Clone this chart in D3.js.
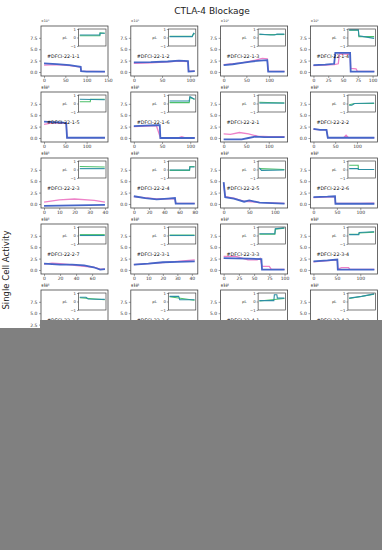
<!DOCTYPE html>
<html>
<head>
<meta charset="utf-8">
<script src="https://cdn.jsdelivr.net/npm/d3@7"></script>
<style>
body { margin: 0; background: #fff; }
svg { display: block; font-family: "DejaVu Sans", sans-serif; }
</style>
</head>
<body>
<svg id="chart" width="382" height="550"></svg>
<script>
// panel names, in reading order
var panelIds = ["#DFCI-22-1-1", "#DFCI-22-1-2", "#DFCI-22-1-3", "#DFCI-22-1-4",
  "#DFCI-22-1-5", "#DFCI-22-1-6", "#DFCI-22-2-1", "#DFCI-22-2-2",
  "#DFCI-22-2-3", "#DFCI-22-2-4", "#DFCI-22-2-5", "#DFCI-22-2-6",
  "#DFCI-22-2-7", "#DFCI-22-3-1", "#DFCI-22-3-3", "#DFCI-22-3-4",
  "#DFCI-22-3-5", "#DFCI-22-3-6", "#DFCI-22-4-1", "#DFCI-22-4-2"];

var panelXMax = [143, 108, 134, 103, 143, 108, 135, 140, 40, 80, 119, 130, 76, 42, 100, 130, 120, 110, 100, 120];

var panelXTicks = [[0, 50, 100, 150], [0, 50, 100], [0, 50, 100], [0, 25, 50, 75, 100],
  [0, 50, 100], [0, 50, 100], [0, 50, 100], [0, 50, 100],
  [0, 10, 20, 30, 40], [0, 20, 40, 60, 80], [0, 50, 100], [0, 50, 100],
  [0, 20, 40, 60], [0, 10, 20, 30, 40], [0, 25, 50, 75, 100], [0, 50, 100],
  [0, 50, 100], [0, 50, 100], [0, 50, 100], [0, 50, 100]];

var yTicks = [0, 2.5, 5, 7.5];
var insetTicks = [-1, 0, 1];

// main series (x, activity)
var blueSeries = [
  [[0,1.9],[30,1.75],[60,1.5],[75,1.3],[86,1.15],[87,0.2],[100,0.1],[143,0.1]],
  [[0,2.1],[30,2.15],[60,2.3],[80,2.5],[96,2.4],[97,0.1],[108,0.2]],
  [[0,1.5],[20,1.7],[40,2.0],[60,2.3],[80,2.5],[96,2.6],[98,0.1],[134,0.1]],
  [[0,1.5],[20,1.6],[35,1.8],[37,4.2],[62,4.2],[63,0.1],[103,0.1]],
  [[0,3.6],[20,3.5],[40,3.4],[52,3.3],[54,0.05],[143,0.05]],
  [[0,2.6],[20,2.7],[40,2.8],[46,2.8],[47,0.0],[108,0.0]],
  [[0,-0.3],[40,-0.3],[55,0.0],[70,0.3],[90,0.2],[135,0.2]],
  [[0,2.0],[15,1.8],[30,1.8],[33,0.05],[140,0.05]],
  [[0,-0.4],[20,-0.3],[40,-0.2]],
  [[0,1.7],[15,1.3],[30,1.0],[45,1.2],[54,1.3],[55,0.1],[80,0.1]],
  [[0,4.8],[3,1.5],[20,1.2],[40,0.5],[50,0.8],[70,0.3],[119,0.1]],
  [[0,1.5],[30,1.6],[46,1.7],[47,0.05],[130,0.05]],
  [[0,1.4],[20,1.2],[35,1.2],[50,1.0],[62,0.6],[70,0.1],[76,0.2]],
  [[0,1.2],[10,1.4],[20,1.7],[30,1.8],[42,1.9]],
  [[0,2.6],[40,2.5],[62,2.4],[63,0.1],[100,0.1]],
  [[0,1.9],[30,2.1],[51,2.3],[52,0.1],[130,0.1]],
  [[0,1.5],[120,1.0]],
  [[0,1.5],[110,1.0]],
  [[0,1.5],[100,1.0]],
  [[0,1.5],[120,1.0]]
];

var pinkSeries = [
  [[0,1.5],[30,1.6],[60,1.4],[86,1.1],[87,0.2],[143,0.1]],
  [[0,1.9],[30,2.0],[60,2.2],[80,2.4],[96,2.3],[97,0.2],[108,0.2]],
  [[0,1.6],[40,2.0],[70,2.6],[85,3.0],[96,2.9],[98,0.2],[134,0.15]],
  [[0,1.4],[35,1.6],[42,1.8],[44,4.0],[62,3.9],[63,0.8],[72,0.7],[74,0.2],[103,0.15]],
  [[0,3.0],[20,3.3],[52,3.2],[54,0.1],[143,0.1]],
  [[0,2.5],[40,2.7],[47,0.1],[80,0.1],[85,0.3],[90,0.1],[108,0.1]],
  [[0,0.9],[15,0.8],[35,1.2],[55,0.9],[75,0.4],[100,0.3],[135,0.3]],
  [[0,1.9],[30,1.8],[33,0.1],[70,0.1],[75,0.6],[80,0.1],[140,0.1]],
  [[0,0.4],[10,0.9],[20,1.1],[33,0.8],[40,0.4]],
  [[0,1.6],[30,1.1],[54,1.2],[55,0.15],[80,0.15]],
  [[0,4.6],[3,1.6],[20,1.3],[40,0.6],[70,0.35],[119,0.15]],
  [[0,1.4],[46,1.6],[47,0.2],[100,0.15],[130,0.2]],
  [[0,1.3],[10,1.5],[20,1.4],[35,1.1],[62,0.6],[70,0.2],[76,0.2]],
  [[0,1.2],[20,1.6],[30,1.9],[42,2.2]],
  [[0,3.0],[20,3.0],[40,2.2],[55,2.2],[60,2.6],[63,0.8],[75,0.8],[78,0.2],[100,0.15]],
  [[0,1.8],[51,2.2],[52,0.2],[60,0.5],[75,0.5],[78,0.15],[130,0.15]],
  [[0,1.4],[120,1.0]],
  [[0,1.4],[110,1.0]],
  [[0,1.4],[100,1.0]],
  [[0,1.4],[120,1.0]]
];

// inset series (x, correlation)
var insetTeal = [
  [[0,0.3],[115,0.3],[116,0.5],[143,0.5]],
  [[0,0.1],[98,0.1],[104,0.5],[108,0.45]],
  [[0,0.4],[60,0.3],[80,0.3],[95,0.4],[134,0.4]],
  [[0,0.9],[38,0.9],[40,0.2],[60,0.1],[103,-0.1]],
  [[0,0.5],[143,0.45]],
  [[0,0.3],[85,0.3],[88,0.8],[108,0.5]],
  [[0,0.05],[135,0.05]],
  [[0,-0.2],[15,-0.2],[30,0.0],[140,0.05]],
  [[0,0.1],[40,0.1]],
  [[0,-0.05],[64,-0.05],[65,0.3],[80,0.3]],
  [[0,0.2],[10,-0.1],[119,-0.05]],
  [[0,0.1],[47,0.1],[48,0.0],[130,0.0]],
  [[0,0.0],[76,0.0]],
  [[0,0.0],[42,0.0]],
  [[0,0.2],[62,0.2],[64,0.8],[100,0.9]],
  [[0,0.1],[50,0.1],[52,0.35],[130,0.45]],
  [[0,0.5],[30,0.5],[40,0.3],[120,0.25]],
  [[0,0.6],[40,0.6],[45,0.2],[110,0.2]],
  [[0,0.1],[58,0.1],[60,0.8],[70,0.8],[72,0.4],[100,0.4]],
  [[0,0.4],[60,0.6],[120,0.9]]
];

var insetGreen = [
  [[0,0.2],[115,0.2],[116,0.55],[143,0.5]],
  [[0,0.15],[98,0.15],[104,0.45],[108,0.4]],
  [[0,0.35],[134,0.35]],
  [[0,0.85],[38,0.85],[40,0.1],[65,0.1],[103,0.1]],
  [[0,0.2],[60,0.2],[62,0.5],[143,0.5]],
  [[0,0.1],[85,0.1],[88,0.7],[108,0.5]],
  [[0,0.15],[135,0.05]],
  [[0,-0.15],[30,0.0],[140,0.0]],
  [[0,0.35],[40,0.3]],
  [[0,-0.1],[64,-0.1],[65,0.35],[80,0.35]],
  [[0,0.1],[119,0.0]],
  [[0,0.5],[47,0.5],[48,0.0],[130,0.0]],
  [[0,0.1],[76,0.1]],
  [[0,0.05],[42,0.05]],
  [[0,0.15],[62,0.15],[64,0.75],[100,0.85]],
  [[0,0.15],[50,0.15],[52,0.3],[130,0.4]],
  [[0,0.45],[120,0.2]],
  [[0,0.55],[110,0.15]],
  [[0,0.05],[100,0.35]],
  [[0,0.35],[120,0.85]]
];

var svg = d3.select("#chart");

var colLeft = 41, colStep = 89.8, panelW = 67;
var rowTop = 26, rowStep = 66, panelH = 50;

svg.append("text")
  .text("CTLA-4 Blockage")
  .attr("x", 212).attr("y", 14)
  .attr("text-anchor", "middle")
  .attr("font-size", 9)
  .attr("fill", "#222");

svg.append("text")
  .text("Single Cell Activity")
  .attr("transform", "translate(9,270) rotate(-90)")
  .attr("text-anchor", "middle")
  .attr("font-size", 8.5)
  .attr("fill", "#222");

var yScale = d3.scaleLinear().domain([-0.88, 10.1]).range([panelH, 0]);

panelIds.forEach(function(id, i) {
  var col = i % 4, row = Math.floor(i / 4);
  var g = svg.append("g")
    .attr("transform", "translate(" + (colLeft + col * colStep) + "," + (rowTop + row * rowStep) + ")");

  var xm = panelXMax[i];
  var xScale = d3.scaleLinear().domain([-xm * 0.05, xm * 1.05]).range([0, panelW]);

  var line = d3.line()
    .x(function(d) { return xScale(d[0]); })
    .y(function(d) { return yScale(d[1]); });

  g.append("path").datum(pinkSeries[i])
    .attr("d", line).attr("fill", "none")
    .attr("stroke", "#ee82c8").attr("stroke-width", 1.3);
  g.append("path").datum(blueSeries[i])
    .attr("d", line).attr("fill", "none")
    .attr("stroke", "#4565c8").attr("stroke-width", 1.8);

  var yAxis = g.append("g")
    .call(d3.axisLeft(yScale).tickValues(yTicks).tickSize(2).tickPadding(1.5)
      .tickFormat(d3.format(".1f")));
  var xAxis = g.append("g").attr("transform", "translate(0," + panelH + ")")
    .call(d3.axisBottom(xScale).tickValues(panelXTicks[i]).tickSize(2).tickPadding(1.2));
  [yAxis, xAxis].forEach(function(a) {
    a.select(".domain").remove();
    a.selectAll("text").attr("font-size", 4.5).attr("fill", "#333")
      .attr("font-family", "DejaVu Sans");
    a.selectAll("line").attr("stroke", "#444").attr("stroke-width", 0.5);
  });

  g.append("text").text("×10³").attr("x", 0).attr("y", -4)
    .attr("font-size", 3.3).attr("fill", "#333");
  g.append("text").text("×10³").attr("x", 0).attr("y", panelH + 12.5)
    .attr("font-size", 3.3).attr("fill", "#333");

  g.append("text").text(id)
    .attr("x", 6).attr("y", 32)
    .attr("font-size", 4.8).attr("fill", "#111");

  g.append("rect").attr("width", panelW).attr("height", panelH)
    .attr("fill", "none").attr("stroke", "#444").attr("stroke-width", 0.8);

  // inset
  var ix = panelW * 0.56, iw = panelW * 0.41, iy = 3, ih = 17;
  var ig = g.append("g").attr("transform", "translate(" + ix + "," + iy + ")");
  var ixScale = d3.scaleLinear().domain([-xm * 0.05, xm * 1.05]).range([0, iw]);
  var iyScale = d3.scaleLinear().domain([-1, 1]).range([ih, 0]);
  ig.append("rect").attr("width", iw).attr("height", ih).attr("fill", "#fff");
  var iline = d3.line()
    .x(function(d) { return ixScale(d[0]); })
    .y(function(d) { return iyScale(d[1]); });
  ig.append("path").datum(insetGreen[i]).attr("d", iline).attr("fill", "none")
    .attr("stroke", "#4cc06a").attr("stroke-width", 1.1);
  ig.append("path").datum(insetTeal[i]).attr("d", iline).attr("fill", "none")
    .attr("stroke", "#2b8fa3").attr("stroke-width", 1.1);
  var ia = ig.append("g")
    .call(d3.axisLeft(iyScale).tickValues(insetTicks).tickSize(1.5).tickPadding(1)
      .tickFormat(function(d) { return d < 0 ? "−1" : d; }));
  ia.select(".domain").remove();
  ia.selectAll("text").attr("font-size", 3.8).attr("fill", "#333")
    .attr("font-family", "DejaVu Sans");
  ia.selectAll("line").attr("stroke", "#444").attr("stroke-width", 0.5);
  ig.append("text").text("ρL").attr("x", -16).attr("y", ih / 2 + 1.5)
    .attr("font-size", 3.8).attr("fill", "#333");
  ig.append("rect").attr("width", iw).attr("height", ih)
    .attr("fill", "none").attr("stroke", "#444").attr("stroke-width", 0.7);
});

// grey cover over the lower part of the figure
svg.append("rect").attr("x", 40).attr("y", 320).attr("width", 342).attr("height", 230)
  .attr("fill", "#808080");
svg.append("rect").attr("x", 0).attr("y", 328).attr("width", 382).attr("height", 222)
  .attr("fill", "#808080");
</script>
</body>
</html>
